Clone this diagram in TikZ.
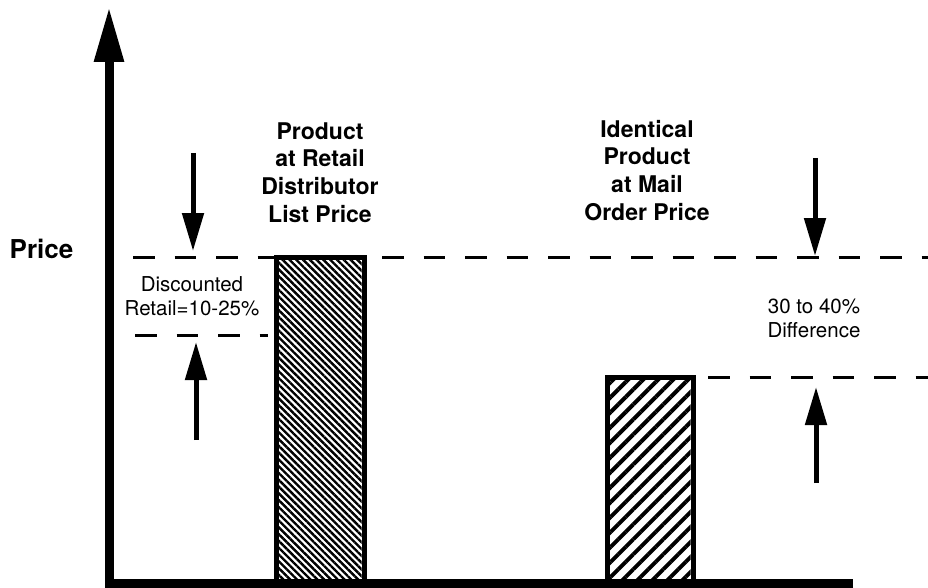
\documentclass[tikz,border=0pt]{standalone}
\usepackage{fontspec}
\setmainfont{TeX Gyre Heros}
\usetikzlibrary{arrows.meta,patterns.meta}
\begin{document}
\begin{tikzpicture}[x=1pt,y=-1pt,
  axisline/.style={line width=9pt, line join=miter, -{Triangle[width=28pt,length=55pt]}},
  guide/.style={line width=3pt, dash pattern=on 21.5pt off 20pt},
  ptr/.style={line width=5pt, -{Triangle[width=21pt,length=38pt]}},
  barbox/.style={line width=5pt, fill=white},
  boldlbl/.style={font=\fontsize{23}{27.5}\selectfont\bfseries, align=center, anchor=base, inner sep=0pt},
  pricelbl/.style={font=\fontsize{26}{30}\selectfont\bfseries, anchor=base, inner sep=0pt},
  smalllbl/.style={font=\fontsize{20.5}{23.5}\selectfont, align=center, anchor=base, inner sep=0pt}]
\useasboundingbox (0,0) rectangle (928,588);
\fill[white] (0,0) rectangle (928,588);

% named points
\coordinate (xend) at (853,583);
\coordinate (origin) at (109,583);
\coordinate (ytip) at (109,7);
\coordinate (g1a) at (133,257);
\coordinate (g1b) at (928,257);
\coordinate (g2a) at (135,335);
\coordinate (g2b) at (268,335);
\coordinate (g3a) at (708,377);
\coordinate (g3b) at (928,377);
\coordinate (a1s) at (193,153);
\coordinate (a1e) at (193,251);
\coordinate (a2s) at (196,440);
\coordinate (a2e) at (196,342);
\coordinate (a3s) at (815,158);
\coordinate (a3e) at (815,256);
\coordinate (a4s) at (816,483);
\coordinate (a4e) at (816,387);

% guide lines
\draw[guide] (g1a) -- (g1b);
\draw[guide] (g2a) -- (g2b);
\draw[guide] (g3a) -- (g3b);

% bars
\draw[barbox] (276,257) rectangle (364,583);
\fill[pattern={Lines[angle=-45,distance=4.8pt,line width=2.4pt]}] (278.5,259.5) rectangle (361.5,583);
\draw[line width=5pt] (276,257) rectangle (364,583);

\draw[barbox] (607,377) rectangle (693,583);
\fill[pattern={Lines[angle=45,distance=10.6pt,line width=4pt]}] (609.5,379.5) rectangle (690.5,583);
\draw[line width=5pt] (607,377) rectangle (693,583);

% axes
\draw[axisline] (xend) -- (origin) -- (ytip);

% pointers
\draw[ptr] (a1s) -- (a1e);
\draw[ptr] (a2s) -- (a2e);
\draw[ptr] (a3s) -- (a3e);
\draw[ptr] (a4s) -- (a4e);

% labels (anchor=base is the baseline of the last line)
\node[pricelbl] (price) at (41.5,258) {Price};
\node[boldlbl] (retail) at (320,222) {Product\\at Retail\\Distributor\\List Price};
\node[boldlbl] (mail) at (647,220) {Identical\\Product\\at Mail\\Order Price};
\node[smalllbl] (disc) at (192,315) {Discounted\\Retail=10-25\%};
\node[smalllbl] (diff) at (814,337) {30 to 40\%\\Difference};
\end{tikzpicture}
\end{document}
